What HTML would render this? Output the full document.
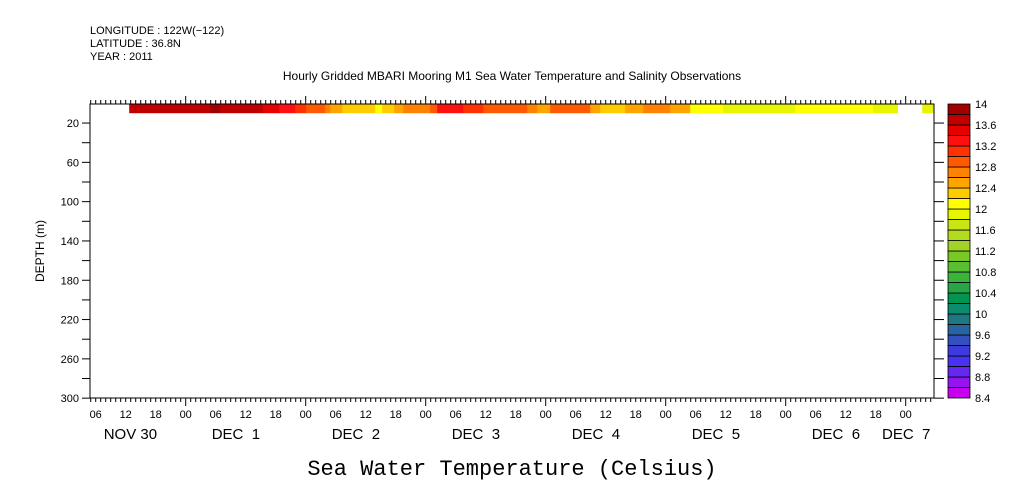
<!DOCTYPE html>
<html><head><meta charset="utf-8"><style>
html,body{margin:0;padding:0;background:#fff;}
svg{display:block;font-family:"Liberation Sans",sans-serif;}
</style></head><body>
<svg id="chart" width="1009" height="504" viewBox="0 0 1009 504" xmlns="http://www.w3.org/2000/svg">
<g font-size="11" fill="#000">
<text x="90" y="34">LONGITUDE : 122W(−122)</text>
<text x="90" y="47">LATITUDE : 36.8N</text>
<text x="90" y="60">YEAR : 2011</text>
<text x="512" y="80" text-anchor="middle" font-size="12">Hourly Gridded MBARI Mooring M1 Sea Water Temperature and Salinity Observations</text>
</g>
<g id="data"></g>
<g id="axes"></g>
<g id="cbar"></g>
<text transform="translate(44,251) rotate(-90)" text-anchor="middle" font-size="12">DEPTH (m)</text>
<text x="512" y="475" text-anchor="middle" font-size="22" font-family="Liberation Mono, monospace">Sea Water Temperature (Celsius)</text>
</svg>
<script>
// segment boundaries in hours since Nov 30 00:00 (2011)
const segStart = [12.7,28.9,30.9,39.4,42.7,45.9,48.1,51.9,52.9,55.3,61.9,63.3,65.7,67.5,72.9,74.3,79.5,83.5,92.3,94.3,96.9,104.9,106.9,111.9,115.5,120.9,124.9,131.5,143.9,145.9,155.5,161.5,166.4,171.3];
const segEnd   = [28.9,30.9,39.4,42.7,45.9,48.1,51.9,52.9,55.3,61.9,63.3,65.7,67.5,72.9,74.3,79.5,83.5,92.3,94.3,96.9,104.9,106.9,111.9,115.5,120.9,124.9,131.5,143.9,145.9,155.5,161.5,166.4,171.3,173.7];
const segTemp  = [13.7,13.9,13.7,13.5,13.3,13.1,12.9,12.7,12.5,12.3,12.1,12.3,12.5,12.7,12.9,13.2,13.1,12.9,12.7,12.5,12.9,12.5,12.3,12.5,12.7,12.5,12.1,11.8,11.9,12.1,12.1,11.9,null,11.9];
const depthTop = [1];
const depthBottom = [10];
const depthTicks = [20,40,60,80,100,120,140,160,180,200,220,240,260,280,300];
const depthLabels = [20,60,100,140,180,220,260,300];
const hourLabels = ["06","12","18","00"];
const dayLabels = ["NOV 30","DEC  1","DEC  2","DEC  3","DEC  4","DEC  5","DEC  6","DEC  7"];
const levels = [8.4,8.6,8.8,9.0,9.2,9.4,9.6,9.8,10.0,10.2,10.4,10.6,10.8,11.0,11.2,11.4,11.6,11.8,12.0,12.2,12.4,12.6,12.8,13.0,13.2,13.4,13.6,13.8,14.0];
const levelColors = ["#c800f0","#9614f0","#6428f0","#4632f0","#3c3cdc","#3250be","#2864a0","#1e7882","#0a8c6e","#009650","#28a546","#3cb43c","#5abe32","#78c828","#a0d228","#b4dc1e","#c8e614","#e6f500","#ffff00","#ffcc00","#ffa500","#ff8200","#ff5a00","#ff3200","#ff1010","#e60000","#c00000","#a00000"];
const cbarLabels = ["8.4","8.8","9.2","9.6","10","10.4","10.8","11.2","11.6","12","12.4","12.8","13.2","13.6","14"];

const NS="http://www.w3.org/2000/svg";
const X0=90,X1=934,Y0=104,Y1=398;
const xS=h=>65.7+h*5;
const yS=d=>103.4+d*0.9825;
function colorFor(t){for(let i=0;i<levelColors.length;i++){if(t<levels[i+1])return levelColors[i];}return levelColors[levelColors.length-1];}
function mk(tag,attrs,parent){const e=document.createElementNS(NS,tag);for(const k in attrs)e.setAttribute(k,attrs[k]);parent.appendChild(e);return e;}

const gd=document.getElementById('data');
segTemp.forEach((t,i)=>{
  if(t===null)return;
  const r=mk('rect',{x:xS(segStart[i]),y:yS(depthTop[0]),width:xS(segEnd[i])-xS(segStart[i])+0.3,height:yS(depthBottom[0])-yS(depthTop[0]),fill:colorFor(t)},gd);
  
  
});

const ga=document.getElementById('axes');
const fr=mk('rect',{x:X0,y:Y0,width:X1-X0,height:Y1-Y0,fill:'none',stroke:'#000','stroke-width':1},ga);


depthTicks.forEach(d=>{
  const y=yS(d);
  mk('line',{x1:X0-8,x2:X0,y1:y,y2:y,stroke:'#000'},ga);
  mk('line',{x1:X1,x2:X1+10,y1:y,y2:y,stroke:'#000'},ga);
});
depthLabels.forEach(d=>{
  const t=mk('text',{x:X0-11,y:yS(d)+4,'text-anchor':'end','font-size':11},ga);
  t.textContent=d;
  
  
});
for(let h=-3;h<=173;h++){
  const x=xS(h); if(x<X0||x>X1)continue;
  const major=(h%24===0);
  mk('line',{x1:x,x2:x,y1:Y0,y2:Y0-(major?8:4),stroke:'#000'},ga);
  mk('line',{x1:x,x2:x,y1:Y1,y2:Y1+(major?8:4),stroke:'#000'},ga);
  if(h%6===0){
    const t=mk('text',{x:x,y:418,'text-anchor':'middle','font-size':11},ga);
    t.textContent=hourLabels[((h/6)%4+4+3)%4];
    
    
  }
}
dayLabels.forEach((s,i)=>{
  let x=xS(i*24)+(i===0?38:26);
  if(i===dayLabels.length-1)x=882;
  const t=mk('text',{x:x,y:439,'font-size':15,'xml:space':'preserve'},ga);
  t.setAttribute('style','white-space:pre');
  t.textContent=s;
  
  
});

const gc=document.getElementById('cbar');
const cbTop=104,cbBot=398,cbH=(cbBot-cbTop)/levelColors.length;
levelColors.forEach((c,i)=>{
  const y=cbBot-(i+1)*cbH;
  const r=mk('rect',{x:948,y:y,width:22,height:cbH,fill:c,stroke:'#000','stroke-width':0.8},gc);
  
  
});
cbarLabels.forEach((s,i)=>{
  const t=mk('text',{x:975,y:cbBot-i*2*cbH+4,'font-size':11},gc);
  t.textContent=s;
  
  
});
</script>
</body></html>
